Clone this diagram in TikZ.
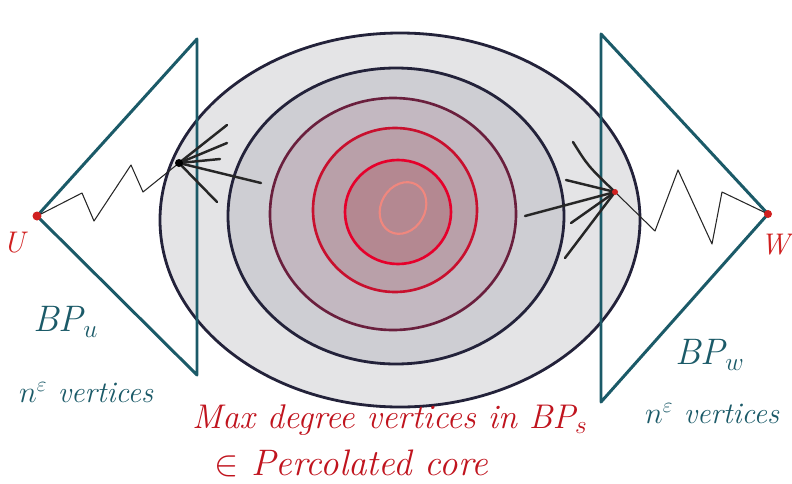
\documentclass[tikz,border=0pt]{standalone}
\usepackage{tikz}
\usetikzlibrary{positioning, calc}
\usepackage{amsmath}
\usepackage{amssymb}
\usepackage{xcolor}

\definecolor{bpteal}{HTML}{1B5A68}
\definecolor{rimnavy}{HTML}{23223A}
\definecolor{ringwine}{HTML}{6A1F3D}
\definecolor{ringcrimson}{HTML}{C8102E}
\definecolor{ringred}{HTML}{E6002B}
\definecolor{ringsalmon}{HTML}{F0877E}
\definecolor{corered}{HTML}{C0141E}
\definecolor{labelred}{HTML}{D02020}

\begin{document}
\begin{tikzpicture}[x=0.02cm, y=-0.02cm,
    rim/.style={line width=1.6pt, draw=rimnavy},
    bpline/.style={line width=1.7pt, draw=bpteal, line join=round},
    pathline/.style={line width=0.6pt, black!85, line join=round},
    fanline/.style={line width=1.4pt, black!85, line cap=round},
    bplabel/.style={text=bpteal, font=\fontsize{21}{23}\selectfont\itshape},
    vtxlabel/.style={text=bpteal, font=\fontsize{17}{19}\selectfont\itshape},
    corelabel/.style={text=corered, font=\fontsize{19.5}{21}\selectfont\itshape}]
    \useasboundingbox (0,0) rectangle (792,484);
    % Anneaux du coeur
    \fill[fill={rgb,255:red,228;green,228;blue,230}] (400,220) ellipse [x radius=240, y radius=187];
    \draw[rim] (400,220) ellipse [x radius=240, y radius=187];
    \filldraw[rim, fill={rgb,255:red,206;green,206;blue,211}] (396,216) ellipse [x radius=168, y radius=148];
    \filldraw[line width=1.5pt, draw=ringwine, fill={rgb,255:red,195;green,184;blue,193}] (393,214) ellipse [x radius=123, y radius=116];
    \filldraw[line width=1.5pt, draw=ringcrimson, fill={rgb,255:red,185;green,160;blue,169}] (395,210) ellipse [x radius=82, y radius=82];
    \filldraw[line width=1.5pt, draw=ringred, fill={rgb,255:red,180;green,136;blue,145}] (398,212) ellipse [x radius=53, y radius=52];
    \draw[line width=1.2pt, ringsalmon, rotate around={-30:(403,208)}] (403,208) ellipse [x radius=22, y radius=27];
    % Arbres BP
    \coordinate (u) at (37,216);
    \coordinate (w) at (768,214);
    \draw[bpline] (197,375) -- (u) -- (197,39) -- cycle;
    \draw[bpline] (601,402) -- (w) -- (601,34) -- cycle;
    % Chemins vers le coeur
    \coordinate (hu) at (179,163);
    \coordinate (hw) at (615,192);
    \draw[pathline] (u) -- (82,193) -- (94,221) -- (131,165) -- (143,192) -- (hu);
    \draw[pathline] (hw) -- (655,231) -- (678,170) -- (712,244) -- (722,192) -- (w);
    \foreach \x/\y in {227/125, 227/143, 220/159, 261/183, 217/202}
      \draw[fanline] (hu) -- (\x,\y);
    \foreach \x/\y in {566/180, 525/216, 571/223, 565/258}
      \draw[fanline] (\x,\y) -- (hw);
    \draw[fanline] (573,142) .. controls (588,166) .. (hw);
    \fill[black] (hu) circle (4);
    \fill[labelred] (hw) circle (3);
    \fill[labelred] (u) circle (4.5);
    \fill[labelred] (w) circle (4);
    % Etiquettes
    \node[text=labelred, font=\fontsize{17}{19}\selectfont\itshape] (ulab) at (14,243) {U};
    \node[text=labelred, font=\fontsize{17}{19}\selectfont\itshape] (wlab) at (775,245) {W};
    \node[bplabel] (bpu) at (66,322) {BP$_u$};
    \node[vtxlabel] (vu) at (86,393) {$n^{\varepsilon}$ vertices};
    \node[bplabel] (bpw) at (710,355) {BP$_w$};
    \node[vtxlabel] (vw) at (712,414) {$n^{\varepsilon}$ vertices};
    \node[corelabel] (maxdeg) at (390,420) {Max degree vertices in BP$_s$};
    \node[corelabel, font=\fontsize{21}{23}\selectfont\itshape, anchor=west] (core) at (208,463) {$\in$ Percolated core};
  \end{tikzpicture}
\end{document}
